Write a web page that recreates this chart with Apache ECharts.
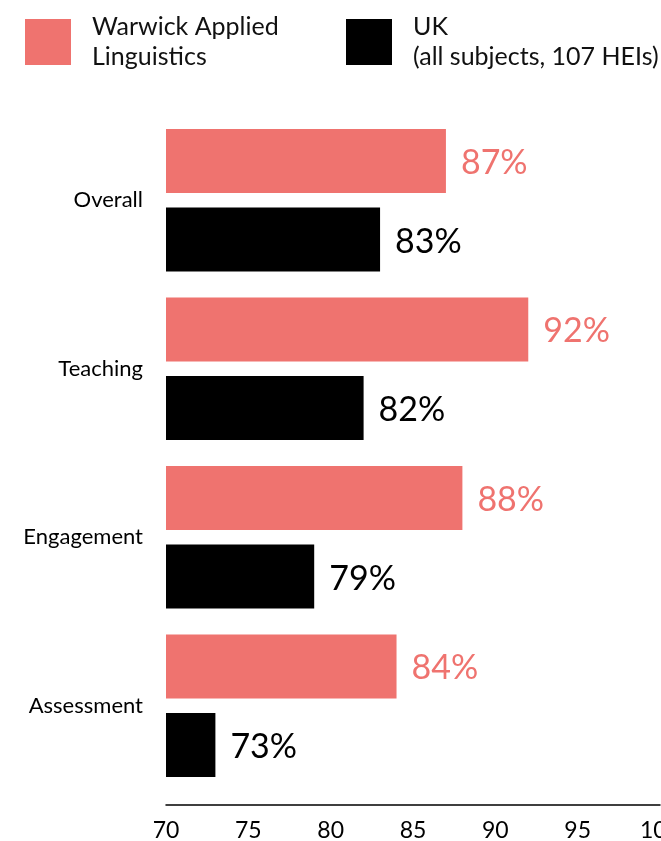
<!DOCTYPE html>
<html>
<head>
<meta charset="utf-8">
<script src="https://cdn.jsdelivr.net/npm/echarts@6/dist/echarts.min.js"></script>
<style>
html,body{margin:0;padding:0;background:#fff;}
#chart{width:661px;height:841px;}
</style>
</head>
<body>
<div id="chart"></div>
<script>
const categories = ['Overall', 'Teaching', 'Engagement', 'Assessment'];
const warwickName = 'Warwick Applied\nLinguistics';
const ukName = 'UK\n(all subjects, 107 HEIs)';
const warwickValues = [87, 92, 88, 84];
const ukValues = [83, 82, 79, 73];
const xTicks = [70, 75, 80, 85, 90, 95, 100];

const PINK = '#EF736F';
const FONT = 'Lato';

const chart = echarts.init(document.getElementById('chart'), null, {renderer: 'canvas'});
const legendText = {fontFamily: FONT, fontSize: 25, lineHeight: 30, color: '#111', padding: [0, 0, 0, 16]};
chart.setOption({
  animation: false,
  backgroundColor: '#fff',
  legend: [
    {data: [warwickName], left: 25, top: 12, padding: 0, itemWidth: 46, itemHeight: 46, icon: 'rect', textStyle: legendText, selectedMode: false},
    {data: [ukName], left: 346, top: 12, padding: 0, itemWidth: 46, itemHeight: 46, icon: 'rect', textStyle: legendText, selectedMode: false}
  ],
  grid: {left: 166, right: 1, top: 116, bottom: 51, containLabel: false, outerBoundsMode: 'none'},
  xAxis: {
    type: 'value', min: xTicks[0], max: xTicks[xTicks.length - 1], interval: 5,
    offset: 15,
    axisLine: {show: true, lineStyle: {color: '#000', width: 1.5}},
    axisTick: {show: false},
    splitLine: {show: false},
    axisLabel: {fontFamily: FONT, fontSize: 23, color: '#000', margin: 14}
  },
  yAxis: {
    type: 'category', data: categories, inverse: true,
    axisLine: {show: false}, axisTick: {show: false},
    axisLabel: {fontFamily: FONT, fontSize: 22, color: '#000', margin: 23, padding: [4, 0, 0, 0]}
  },
  series: [
    {
      name: warwickName, type: 'bar', data: warwickValues, barWidth: 64, barGap: '23%',
      itemStyle: {color: PINK},
      label: {show: true, position: 'right', distance: 15, offset: [0, 2], formatter: '{c}%', fontFamily: FONT, fontSize: 34, color: PINK}
    },
    {
      name: ukName, type: 'bar', data: ukValues, barWidth: 64,
      itemStyle: {color: '#000'},
      label: {show: true, position: 'right', distance: 15, offset: [0, 2], formatter: '{c}%', fontFamily: FONT, fontSize: 34, color: '#000'}
    }
  ]
});
</script>
</body>
</html>
